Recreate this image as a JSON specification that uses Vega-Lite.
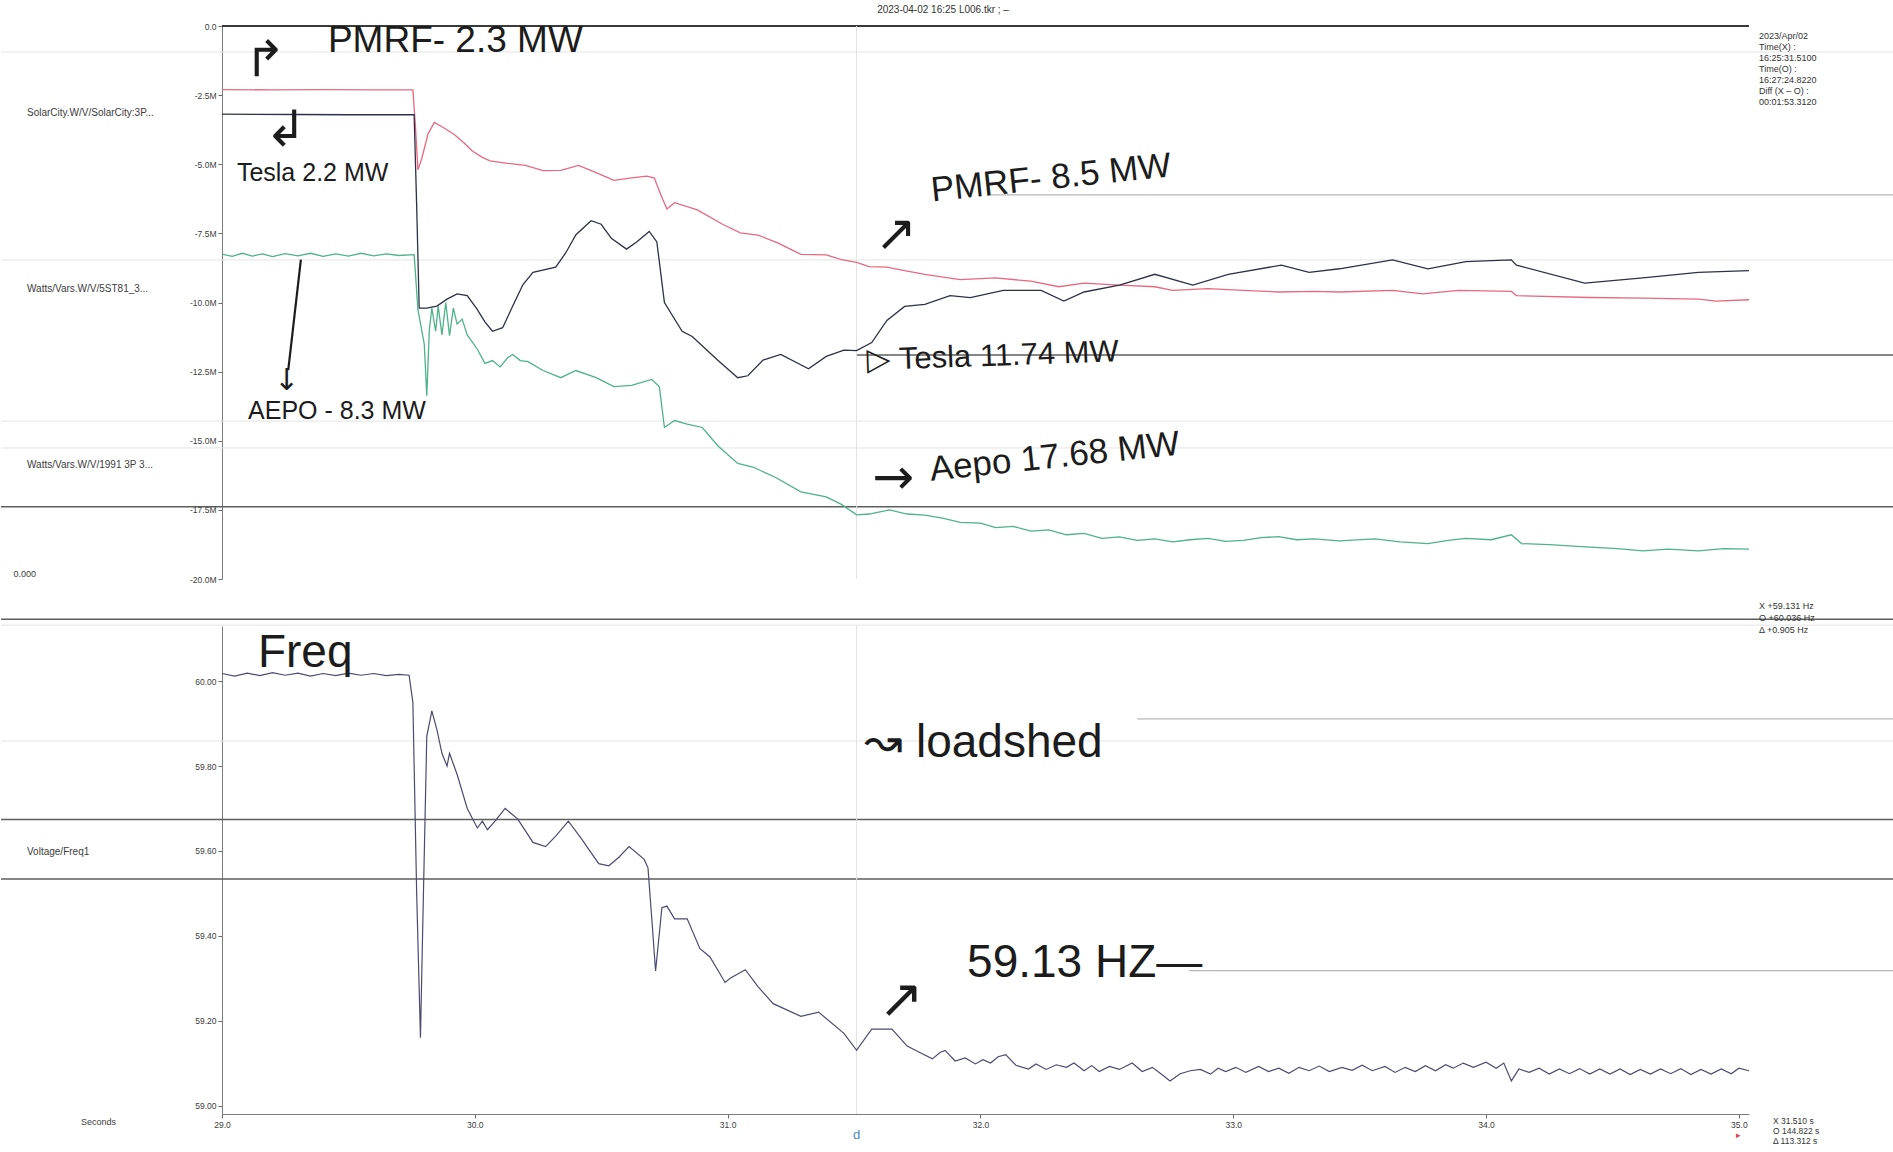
{
  "$schema": "https://vega.github.io/schema/vega-lite/v6.json",
  "background": "#ffffff",
  "padding": {"left": 0, "top": 5, "right": 0, "bottom": 0},
  "bounds": "flush",
  "spacing": 47,
  "resolve": {
    "scale": {"color": "independent", "x": "independent", "y": "independent"},
    "legend": {"color": "independent"}
  },
  "config": {
    "view": {"stroke": null},
    "font": "Liberation Sans",
    "axis": {
      "grid": false,
      "labelFont": "Liberation Sans",
      "labelFontSize": 8.5,
      "labelColor": "#3c3c3c",
      "domainColor": "#7c7c7c",
      "domainWidth": 1,
      "tickColor": "#6c6c6c",
      "tickSize": 4,
      "labelPadding": 2,
      "titleFont": "Liberation Sans",
      "titleFontWeight": "normal",
      "titleFontSize": 9,
      "titleColor": "#3c3c3c"
    },
    "legend": {
      "padding": 0,
      "symbolType": "square",
      "symbolSize": 22,
      "symbolStrokeWidth": 0,
      "labelFont": "Liberation Sans",
      "labelFontSize": 10,
      "labelColor": "#3c3c3c",
      "labelLimit": 240,
      "labelOffset": 4
    }
  },
  "datasets": {
    "power": [
      {"t": 29.00, "mw": -2.30, "channel": "Watts/Vars.W/V/1991 3P 3..."},
      {"t": 29.20, "mw": -2.31, "channel": "Watts/Vars.W/V/1991 3P 3..."},
      {"t": 29.40, "mw": -2.30, "channel": "Watts/Vars.W/V/1991 3P 3..."},
      {"t": 29.60, "mw": -2.31, "channel": "Watts/Vars.W/V/1991 3P 3..."},
      {"t": 29.755, "mw": -2.31, "channel": "Watts/Vars.W/V/1991 3P 3..."},
      {"t": 29.765, "mw": -3.60, "channel": "Watts/Vars.W/V/1991 3P 3..."},
      {"t": 29.775, "mw": -5.20, "channel": "Watts/Vars.W/V/1991 3P 3..."},
      {"t": 29.79, "mw": -4.80, "channel": "Watts/Vars.W/V/1991 3P 3..."},
      {"t": 29.815, "mw": -3.90, "channel": "Watts/Vars.W/V/1991 3P 3..."},
      {"t": 29.84, "mw": -3.49, "channel": "Watts/Vars.W/V/1991 3P 3..."},
      {"t": 29.88, "mw": -3.70, "channel": "Watts/Vars.W/V/1991 3P 3..."},
      {"t": 29.92, "mw": -3.93, "channel": "Watts/Vars.W/V/1991 3P 3..."},
      {"t": 29.96, "mw": -4.25, "channel": "Watts/Vars.W/V/1991 3P 3..."},
      {"t": 29.99, "mw": -4.52, "channel": "Watts/Vars.W/V/1991 3P 3..."},
      {"t": 30.03, "mw": -4.75, "channel": "Watts/Vars.W/V/1991 3P 3..."},
      {"t": 30.06, "mw": -4.88, "channel": "Watts/Vars.W/V/1991 3P 3..."},
      {"t": 30.13, "mw": -4.97, "channel": "Watts/Vars.W/V/1991 3P 3..."},
      {"t": 30.20, "mw": -5.04, "channel": "Watts/Vars.W/V/1991 3P 3..."},
      {"t": 30.27, "mw": -5.23, "channel": "Watts/Vars.W/V/1991 3P 3..."},
      {"t": 30.34, "mw": -5.22, "channel": "Watts/Vars.W/V/1991 3P 3..."},
      {"t": 30.41, "mw": -5.04, "channel": "Watts/Vars.W/V/1991 3P 3..."},
      {"t": 30.48, "mw": -5.30, "channel": "Watts/Vars.W/V/1991 3P 3..."},
      {"t": 30.55, "mw": -5.58, "channel": "Watts/Vars.W/V/1991 3P 3..."},
      {"t": 30.62, "mw": -5.49, "channel": "Watts/Vars.W/V/1991 3P 3..."},
      {"t": 30.68, "mw": -5.43, "channel": "Watts/Vars.W/V/1991 3P 3..."},
      {"t": 30.71, "mw": -5.50, "channel": "Watts/Vars.W/V/1991 3P 3..."},
      {"t": 30.74, "mw": -6.20, "channel": "Watts/Vars.W/V/1991 3P 3..."},
      {"t": 30.76, "mw": -6.62, "channel": "Watts/Vars.W/V/1991 3P 3..."},
      {"t": 30.79, "mw": -6.39, "channel": "Watts/Vars.W/V/1991 3P 3..."},
      {"t": 30.88, "mw": -6.65, "channel": "Watts/Vars.W/V/1991 3P 3..."},
      {"t": 30.98, "mw": -7.17, "channel": "Watts/Vars.W/V/1991 3P 3..."},
      {"t": 31.05, "mw": -7.48, "channel": "Watts/Vars.W/V/1991 3P 3..."},
      {"t": 31.12, "mw": -7.56, "channel": "Watts/Vars.W/V/1991 3P 3..."},
      {"t": 31.20, "mw": -7.85, "channel": "Watts/Vars.W/V/1991 3P 3..."},
      {"t": 31.29, "mw": -8.26, "channel": "Watts/Vars.W/V/1991 3P 3..."},
      {"t": 31.39, "mw": -8.28, "channel": "Watts/Vars.W/V/1991 3P 3..."},
      {"t": 31.45, "mw": -8.45, "channel": "Watts/Vars.W/V/1991 3P 3..."},
      {"t": 31.51, "mw": -8.55, "channel": "Watts/Vars.W/V/1991 3P 3..."},
      {"t": 31.56, "mw": -8.70, "channel": "Watts/Vars.W/V/1991 3P 3..."},
      {"t": 31.63, "mw": -8.72, "channel": "Watts/Vars.W/V/1991 3P 3..."},
      {"t": 31.70, "mw": -8.85, "channel": "Watts/Vars.W/V/1991 3P 3..."},
      {"t": 31.78, "mw": -8.98, "channel": "Watts/Vars.W/V/1991 3P 3..."},
      {"t": 31.92, "mw": -9.17, "channel": "Watts/Vars.W/V/1991 3P 3..."},
      {"t": 32.06, "mw": -9.11, "channel": "Watts/Vars.W/V/1991 3P 3..."},
      {"t": 32.20, "mw": -9.23, "channel": "Watts/Vars.W/V/1991 3P 3..."},
      {"t": 32.31, "mw": -9.43, "channel": "Watts/Vars.W/V/1991 3P 3..."},
      {"t": 32.41, "mw": -9.30, "channel": "Watts/Vars.W/V/1991 3P 3..."},
      {"t": 32.55, "mw": -9.37, "channel": "Watts/Vars.W/V/1991 3P 3..."},
      {"t": 32.69, "mw": -9.43, "channel": "Watts/Vars.W/V/1991 3P 3..."},
      {"t": 32.76, "mw": -9.56, "channel": "Watts/Vars.W/V/1991 3P 3..."},
      {"t": 32.90, "mw": -9.50, "channel": "Watts/Vars.W/V/1991 3P 3..."},
      {"t": 33.04, "mw": -9.56, "channel": "Watts/Vars.W/V/1991 3P 3..."},
      {"t": 33.18, "mw": -9.62, "channel": "Watts/Vars.W/V/1991 3P 3..."},
      {"t": 33.32, "mw": -9.60, "channel": "Watts/Vars.W/V/1991 3P 3..."},
      {"t": 33.42, "mw": -9.62, "channel": "Watts/Vars.W/V/1991 3P 3..."},
      {"t": 33.63, "mw": -9.56, "channel": "Watts/Vars.W/V/1991 3P 3..."},
      {"t": 33.75, "mw": -9.69, "channel": "Watts/Vars.W/V/1991 3P 3..."},
      {"t": 33.89, "mw": -9.56, "channel": "Watts/Vars.W/V/1991 3P 3..."},
      {"t": 34.10, "mw": -9.60, "channel": "Watts/Vars.W/V/1991 3P 3..."},
      {"t": 34.12, "mw": -9.75, "channel": "Watts/Vars.W/V/1991 3P 3..."},
      {"t": 34.41, "mw": -9.82, "channel": "Watts/Vars.W/V/1991 3P 3..."},
      {"t": 34.62, "mw": -9.84, "channel": "Watts/Vars.W/V/1991 3P 3..."},
      {"t": 34.84, "mw": -9.88, "channel": "Watts/Vars.W/V/1991 3P 3..."},
      {"t": 34.91, "mw": -9.95, "channel": "Watts/Vars.W/V/1991 3P 3..."},
      {"t": 35.04, "mw": -9.90, "channel": "Watts/Vars.W/V/1991 3P 3..."},

      {"t": 29.00, "mw": -3.19, "channel": "SolarCity.W/V/SolarCity:3P..."},
      {"t": 29.30, "mw": -3.20, "channel": "SolarCity.W/V/SolarCity:3P..."},
      {"t": 29.50, "mw": -3.21, "channel": "SolarCity.W/V/SolarCity:3P..."},
      {"t": 29.76, "mw": -3.21, "channel": "SolarCity.W/V/SolarCity:3P..."},
      {"t": 29.77, "mw": -6.50, "channel": "SolarCity.W/V/SolarCity:3P..."},
      {"t": 29.78, "mw": -10.20, "channel": "SolarCity.W/V/SolarCity:3P..."},
      {"t": 29.81, "mw": -10.20, "channel": "SolarCity.W/V/SolarCity:3P..."},
      {"t": 29.85, "mw": -10.13, "channel": "SolarCity.W/V/SolarCity:3P..."},
      {"t": 29.89, "mw": -9.88, "channel": "SolarCity.W/V/SolarCity:3P..."},
      {"t": 29.93, "mw": -9.69, "channel": "SolarCity.W/V/SolarCity:3P..."},
      {"t": 29.97, "mw": -9.75, "channel": "SolarCity.W/V/SolarCity:3P..."},
      {"t": 30.01, "mw": -10.26, "channel": "SolarCity.W/V/SolarCity:3P..."},
      {"t": 30.04, "mw": -10.70, "channel": "SolarCity.W/V/SolarCity:3P..."},
      {"t": 30.07, "mw": -11.04, "channel": "SolarCity.W/V/SolarCity:3P..."},
      {"t": 30.11, "mw": -10.91, "channel": "SolarCity.W/V/SolarCity:3P..."},
      {"t": 30.15, "mw": -10.13, "channel": "SolarCity.W/V/SolarCity:3P..."},
      {"t": 30.19, "mw": -9.36, "channel": "SolarCity.W/V/SolarCity:3P..."},
      {"t": 30.23, "mw": -8.91, "channel": "SolarCity.W/V/SolarCity:3P..."},
      {"t": 30.32, "mw": -8.72, "channel": "SolarCity.W/V/SolarCity:3P..."},
      {"t": 30.36, "mw": -8.20, "channel": "SolarCity.W/V/SolarCity:3P..."},
      {"t": 30.40, "mw": -7.55, "channel": "SolarCity.W/V/SolarCity:3P..."},
      {"t": 30.46, "mw": -7.04, "channel": "SolarCity.W/V/SolarCity:3P..."},
      {"t": 30.50, "mw": -7.17, "channel": "SolarCity.W/V/SolarCity:3P..."},
      {"t": 30.54, "mw": -7.68, "channel": "SolarCity.W/V/SolarCity:3P..."},
      {"t": 30.60, "mw": -8.07, "channel": "SolarCity.W/V/SolarCity:3P..."},
      {"t": 30.64, "mw": -7.81, "channel": "SolarCity.W/V/SolarCity:3P..."},
      {"t": 30.69, "mw": -7.43, "channel": "SolarCity.W/V/SolarCity:3P..."},
      {"t": 30.72, "mw": -7.81, "channel": "SolarCity.W/V/SolarCity:3P..."},
      {"t": 30.75, "mw": -10.00, "channel": "SolarCity.W/V/SolarCity:3P..."},
      {"t": 30.82, "mw": -11.04, "channel": "SolarCity.W/V/SolarCity:3P..."},
      {"t": 30.86, "mw": -11.23, "channel": "SolarCity.W/V/SolarCity:3P..."},
      {"t": 30.96, "mw": -12.08, "channel": "SolarCity.W/V/SolarCity:3P..."},
      {"t": 31.04, "mw": -12.72, "channel": "SolarCity.W/V/SolarCity:3P..."},
      {"t": 31.08, "mw": -12.65, "channel": "SolarCity.W/V/SolarCity:3P..."},
      {"t": 31.14, "mw": -12.08, "channel": "SolarCity.W/V/SolarCity:3P..."},
      {"t": 31.21, "mw": -11.88, "channel": "SolarCity.W/V/SolarCity:3P..."},
      {"t": 31.32, "mw": -12.40, "channel": "SolarCity.W/V/SolarCity:3P..."},
      {"t": 31.39, "mw": -11.95, "channel": "SolarCity.W/V/SolarCity:3P..."},
      {"t": 31.46, "mw": -11.72, "channel": "SolarCity.W/V/SolarCity:3P..."},
      {"t": 31.51, "mw": -11.74, "channel": "SolarCity.W/V/SolarCity:3P..."},
      {"t": 31.57, "mw": -11.45, "channel": "SolarCity.W/V/SolarCity:3P..."},
      {"t": 31.63, "mw": -10.65, "channel": "SolarCity.W/V/SolarCity:3P..."},
      {"t": 31.70, "mw": -10.14, "channel": "SolarCity.W/V/SolarCity:3P..."},
      {"t": 31.78, "mw": -10.07, "channel": "SolarCity.W/V/SolarCity:3P..."},
      {"t": 31.88, "mw": -9.75, "channel": "SolarCity.W/V/SolarCity:3P..."},
      {"t": 31.96, "mw": -9.82, "channel": "SolarCity.W/V/SolarCity:3P..."},
      {"t": 32.09, "mw": -9.56, "channel": "SolarCity.W/V/SolarCity:3P..."},
      {"t": 32.24, "mw": -9.56, "channel": "SolarCity.W/V/SolarCity:3P..."},
      {"t": 32.33, "mw": -9.95, "channel": "SolarCity.W/V/SolarCity:3P..."},
      {"t": 32.41, "mw": -9.62, "channel": "SolarCity.W/V/SolarCity:3P..."},
      {"t": 32.55, "mw": -9.37, "channel": "SolarCity.W/V/SolarCity:3P..."},
      {"t": 32.69, "mw": -8.98, "channel": "SolarCity.W/V/SolarCity:3P..."},
      {"t": 32.84, "mw": -9.37, "channel": "SolarCity.W/V/SolarCity:3P..."},
      {"t": 32.98, "mw": -8.98, "channel": "SolarCity.W/V/SolarCity:3P..."},
      {"t": 33.19, "mw": -8.65, "channel": "SolarCity.W/V/SolarCity:3P..."},
      {"t": 33.30, "mw": -8.91, "channel": "SolarCity.W/V/SolarCity:3P..."},
      {"t": 33.42, "mw": -8.78, "channel": "SolarCity.W/V/SolarCity:3P..."},
      {"t": 33.63, "mw": -8.46, "channel": "SolarCity.W/V/SolarCity:3P..."},
      {"t": 33.77, "mw": -8.78, "channel": "SolarCity.W/V/SolarCity:3P..."},
      {"t": 33.92, "mw": -8.52, "channel": "SolarCity.W/V/SolarCity:3P..."},
      {"t": 34.10, "mw": -8.46, "channel": "SolarCity.W/V/SolarCity:3P..."},
      {"t": 34.12, "mw": -8.65, "channel": "SolarCity.W/V/SolarCity:3P..."},
      {"t": 34.39, "mw": -9.30, "channel": "SolarCity.W/V/SolarCity:3P..."},
      {"t": 34.62, "mw": -9.11, "channel": "SolarCity.W/V/SolarCity:3P..."},
      {"t": 34.84, "mw": -8.91, "channel": "SolarCity.W/V/SolarCity:3P..."},
      {"t": 35.04, "mw": -8.85, "channel": "SolarCity.W/V/SolarCity:3P..."},

      {"t": 29.00, "mw": -8.25, "channel": "Watts/Vars.W/V/5ST81_3..."},
      {"t": 29.04, "mw": -8.33, "channel": "Watts/Vars.W/V/5ST81_3..."},
      {"t": 29.08, "mw": -8.22, "channel": "Watts/Vars.W/V/5ST81_3..."},
      {"t": 29.12, "mw": -8.32, "channel": "Watts/Vars.W/V/5ST81_3..."},
      {"t": 29.16, "mw": -8.24, "channel": "Watts/Vars.W/V/5ST81_3..."},
      {"t": 29.20, "mw": -8.34, "channel": "Watts/Vars.W/V/5ST81_3..."},
      {"t": 29.25, "mw": -8.23, "channel": "Watts/Vars.W/V/5ST81_3..."},
      {"t": 29.30, "mw": -8.31, "channel": "Watts/Vars.W/V/5ST81_3..."},
      {"t": 29.35, "mw": -8.22, "channel": "Watts/Vars.W/V/5ST81_3..."},
      {"t": 29.40, "mw": -8.33, "channel": "Watts/Vars.W/V/5ST81_3..."},
      {"t": 29.45, "mw": -8.24, "channel": "Watts/Vars.W/V/5ST81_3..."},
      {"t": 29.50, "mw": -8.32, "channel": "Watts/Vars.W/V/5ST81_3..."},
      {"t": 29.55, "mw": -8.22, "channel": "Watts/Vars.W/V/5ST81_3..."},
      {"t": 29.60, "mw": -8.31, "channel": "Watts/Vars.W/V/5ST81_3..."},
      {"t": 29.65, "mw": -8.24, "channel": "Watts/Vars.W/V/5ST81_3..."},
      {"t": 29.70, "mw": -8.30, "channel": "Watts/Vars.W/V/5ST81_3..."},
      {"t": 29.76, "mw": -8.27, "channel": "Watts/Vars.W/V/5ST81_3..."},
      {"t": 29.775, "mw": -10.26, "channel": "Watts/Vars.W/V/5ST81_3..."},
      {"t": 29.80, "mw": -11.50, "channel": "Watts/Vars.W/V/5ST81_3..."},
      {"t": 29.81, "mw": -13.37, "channel": "Watts/Vars.W/V/5ST81_3..."},
      {"t": 29.82, "mw": -11.00, "channel": "Watts/Vars.W/V/5ST81_3..."},
      {"t": 29.83, "mw": -10.20, "channel": "Watts/Vars.W/V/5ST81_3..."},
      {"t": 29.845, "mw": -11.04, "channel": "Watts/Vars.W/V/5ST81_3..."},
      {"t": 29.855, "mw": -10.13, "channel": "Watts/Vars.W/V/5ST81_3..."},
      {"t": 29.87, "mw": -11.17, "channel": "Watts/Vars.W/V/5ST81_3..."},
      {"t": 29.885, "mw": -10.00, "channel": "Watts/Vars.W/V/5ST81_3..."},
      {"t": 29.90, "mw": -11.20, "channel": "Watts/Vars.W/V/5ST81_3..."},
      {"t": 29.915, "mw": -10.20, "channel": "Watts/Vars.W/V/5ST81_3..."},
      {"t": 29.93, "mw": -10.78, "channel": "Watts/Vars.W/V/5ST81_3..."},
      {"t": 29.95, "mw": -10.60, "channel": "Watts/Vars.W/V/5ST81_3..."},
      {"t": 29.97, "mw": -11.17, "channel": "Watts/Vars.W/V/5ST81_3..."},
      {"t": 30.01, "mw": -11.69, "channel": "Watts/Vars.W/V/5ST81_3..."},
      {"t": 30.04, "mw": -12.20, "channel": "Watts/Vars.W/V/5ST81_3..."},
      {"t": 30.07, "mw": -12.10, "channel": "Watts/Vars.W/V/5ST81_3..."},
      {"t": 30.10, "mw": -12.33, "channel": "Watts/Vars.W/V/5ST81_3..."},
      {"t": 30.13, "mw": -12.00, "channel": "Watts/Vars.W/V/5ST81_3..."},
      {"t": 30.15, "mw": -11.88, "channel": "Watts/Vars.W/V/5ST81_3..."},
      {"t": 30.18, "mw": -12.10, "channel": "Watts/Vars.W/V/5ST81_3..."},
      {"t": 30.21, "mw": -12.14, "channel": "Watts/Vars.W/V/5ST81_3..."},
      {"t": 30.27, "mw": -12.46, "channel": "Watts/Vars.W/V/5ST81_3..."},
      {"t": 30.34, "mw": -12.72, "channel": "Watts/Vars.W/V/5ST81_3..."},
      {"t": 30.40, "mw": -12.46, "channel": "Watts/Vars.W/V/5ST81_3..."},
      {"t": 30.48, "mw": -12.72, "channel": "Watts/Vars.W/V/5ST81_3..."},
      {"t": 30.55, "mw": -13.04, "channel": "Watts/Vars.W/V/5ST81_3..."},
      {"t": 30.62, "mw": -13.00, "channel": "Watts/Vars.W/V/5ST81_3..."},
      {"t": 30.70, "mw": -12.78, "channel": "Watts/Vars.W/V/5ST81_3..."},
      {"t": 30.73, "mw": -13.05, "channel": "Watts/Vars.W/V/5ST81_3..."},
      {"t": 30.75, "mw": -14.52, "channel": "Watts/Vars.W/V/5ST81_3..."},
      {"t": 30.79, "mw": -14.27, "channel": "Watts/Vars.W/V/5ST81_3..."},
      {"t": 30.84, "mw": -14.40, "channel": "Watts/Vars.W/V/5ST81_3..."},
      {"t": 30.90, "mw": -14.52, "channel": "Watts/Vars.W/V/5ST81_3..."},
      {"t": 30.96, "mw": -15.17, "channel": "Watts/Vars.W/V/5ST81_3..."},
      {"t": 31.04, "mw": -15.82, "channel": "Watts/Vars.W/V/5ST81_3..."},
      {"t": 31.10, "mw": -15.95, "channel": "Watts/Vars.W/V/5ST81_3..."},
      {"t": 31.19, "mw": -16.33, "channel": "Watts/Vars.W/V/5ST81_3..."},
      {"t": 31.29, "mw": -16.85, "channel": "Watts/Vars.W/V/5ST81_3..."},
      {"t": 31.39, "mw": -17.03, "channel": "Watts/Vars.W/V/5ST81_3..."},
      {"t": 31.45, "mw": -17.30, "channel": "Watts/Vars.W/V/5ST81_3..."},
      {"t": 31.51, "mw": -17.68, "channel": "Watts/Vars.W/V/5ST81_3..."},
      {"t": 31.56, "mw": -17.65, "channel": "Watts/Vars.W/V/5ST81_3..."},
      {"t": 31.64, "mw": -17.50, "channel": "Watts/Vars.W/V/5ST81_3..."},
      {"t": 31.71, "mw": -17.65, "channel": "Watts/Vars.W/V/5ST81_3..."},
      {"t": 31.78, "mw": -17.69, "channel": "Watts/Vars.W/V/5ST81_3..."},
      {"t": 31.85, "mw": -17.80, "channel": "Watts/Vars.W/V/5ST81_3..."},
      {"t": 31.92, "mw": -17.95, "channel": "Watts/Vars.W/V/5ST81_3..."},
      {"t": 32.00, "mw": -17.98, "channel": "Watts/Vars.W/V/5ST81_3..."},
      {"t": 32.06, "mw": -18.14, "channel": "Watts/Vars.W/V/5ST81_3..."},
      {"t": 32.13, "mw": -18.10, "channel": "Watts/Vars.W/V/5ST81_3..."},
      {"t": 32.20, "mw": -18.27, "channel": "Watts/Vars.W/V/5ST81_3..."},
      {"t": 32.27, "mw": -18.22, "channel": "Watts/Vars.W/V/5ST81_3..."},
      {"t": 32.34, "mw": -18.40, "channel": "Watts/Vars.W/V/5ST81_3..."},
      {"t": 32.41, "mw": -18.35, "channel": "Watts/Vars.W/V/5ST81_3..."},
      {"t": 32.48, "mw": -18.53, "channel": "Watts/Vars.W/V/5ST81_3..."},
      {"t": 32.55, "mw": -18.48, "channel": "Watts/Vars.W/V/5ST81_3..."},
      {"t": 32.62, "mw": -18.60, "channel": "Watts/Vars.W/V/5ST81_3..."},
      {"t": 32.69, "mw": -18.55, "channel": "Watts/Vars.W/V/5ST81_3..."},
      {"t": 32.76, "mw": -18.66, "channel": "Watts/Vars.W/V/5ST81_3..."},
      {"t": 32.83, "mw": -18.58, "channel": "Watts/Vars.W/V/5ST81_3..."},
      {"t": 32.90, "mw": -18.53, "channel": "Watts/Vars.W/V/5ST81_3..."},
      {"t": 32.97, "mw": -18.64, "channel": "Watts/Vars.W/V/5ST81_3..."},
      {"t": 33.04, "mw": -18.60, "channel": "Watts/Vars.W/V/5ST81_3..."},
      {"t": 33.11, "mw": -18.50, "channel": "Watts/Vars.W/V/5ST81_3..."},
      {"t": 33.18, "mw": -18.47, "channel": "Watts/Vars.W/V/5ST81_3..."},
      {"t": 33.25, "mw": -18.58, "channel": "Watts/Vars.W/V/5ST81_3..."},
      {"t": 33.32, "mw": -18.55, "channel": "Watts/Vars.W/V/5ST81_3..."},
      {"t": 33.42, "mw": -18.62, "channel": "Watts/Vars.W/V/5ST81_3..."},
      {"t": 33.56, "mw": -18.55, "channel": "Watts/Vars.W/V/5ST81_3..."},
      {"t": 33.66, "mw": -18.66, "channel": "Watts/Vars.W/V/5ST81_3..."},
      {"t": 33.77, "mw": -18.72, "channel": "Watts/Vars.W/V/5ST81_3..."},
      {"t": 33.85, "mw": -18.60, "channel": "Watts/Vars.W/V/5ST81_3..."},
      {"t": 33.92, "mw": -18.53, "channel": "Watts/Vars.W/V/5ST81_3..."},
      {"t": 34.02, "mw": -18.58, "channel": "Watts/Vars.W/V/5ST81_3..."},
      {"t": 34.10, "mw": -18.40, "channel": "Watts/Vars.W/V/5ST81_3..."},
      {"t": 34.14, "mw": -18.72, "channel": "Watts/Vars.W/V/5ST81_3..."},
      {"t": 34.25, "mw": -18.76, "channel": "Watts/Vars.W/V/5ST81_3..."},
      {"t": 34.41, "mw": -18.85, "channel": "Watts/Vars.W/V/5ST81_3..."},
      {"t": 34.52, "mw": -18.90, "channel": "Watts/Vars.W/V/5ST81_3..."},
      {"t": 34.62, "mw": -18.98, "channel": "Watts/Vars.W/V/5ST81_3..."},
      {"t": 34.72, "mw": -18.92, "channel": "Watts/Vars.W/V/5ST81_3..."},
      {"t": 34.84, "mw": -18.98, "channel": "Watts/Vars.W/V/5ST81_3..."},
      {"t": 34.94, "mw": -18.90, "channel": "Watts/Vars.W/V/5ST81_3..."},
      {"t": 35.04, "mw": -18.92, "channel": "Watts/Vars.W/V/5ST81_3..."}
    ],
    "freq": [
      {"t": 29.00, "hz": 60.018}, {"t": 29.05, "hz": 60.012}, {"t": 29.10, "hz": 60.019},
      {"t": 29.15, "hz": 60.013}, {"t": 29.20, "hz": 60.020}, {"t": 29.25, "hz": 60.014},
      {"t": 29.30, "hz": 60.019}, {"t": 29.35, "hz": 60.012}, {"t": 29.40, "hz": 60.018},
      {"t": 29.45, "hz": 60.013}, {"t": 29.50, "hz": 60.019}, {"t": 29.55, "hz": 60.014},
      {"t": 29.60, "hz": 60.018}, {"t": 29.65, "hz": 60.013}, {"t": 29.70, "hz": 60.016},
      {"t": 29.74, "hz": 60.014}, {"t": 29.755, "hz": 59.95}, {"t": 29.77, "hz": 59.50},
      {"t": 29.785, "hz": 59.16}, {"t": 29.795, "hz": 59.45}, {"t": 29.81, "hz": 59.87},
      {"t": 29.83, "hz": 59.93}, {"t": 29.85, "hz": 59.886}, {"t": 29.87, "hz": 59.83},
      {"t": 29.89, "hz": 59.80}, {"t": 29.90, "hz": 59.83}, {"t": 29.93, "hz": 59.78},
      {"t": 29.97, "hz": 59.70}, {"t": 30.01, "hz": 59.654}, {"t": 30.03, "hz": 59.67},
      {"t": 30.05, "hz": 59.65}, {"t": 30.08, "hz": 59.67}, {"t": 30.12, "hz": 59.70},
      {"t": 30.17, "hz": 59.675}, {"t": 30.23, "hz": 59.62}, {"t": 30.28, "hz": 59.61},
      {"t": 30.32, "hz": 59.635}, {"t": 30.37, "hz": 59.67}, {"t": 30.42, "hz": 59.63},
      {"t": 30.49, "hz": 59.57}, {"t": 30.53, "hz": 59.565}, {"t": 30.57, "hz": 59.585},
      {"t": 30.61, "hz": 59.61}, {"t": 30.67, "hz": 59.58}, {"t": 30.685, "hz": 59.56},
      {"t": 30.70, "hz": 59.44}, {"t": 30.715, "hz": 59.317}, {"t": 30.74, "hz": 59.466},
      {"t": 30.76, "hz": 59.47}, {"t": 30.79, "hz": 59.44}, {"t": 30.84, "hz": 59.44},
      {"t": 30.89, "hz": 59.37}, {"t": 30.93, "hz": 59.35}, {"t": 30.99, "hz": 59.29},
      {"t": 31.01, "hz": 59.30}, {"t": 31.07, "hz": 59.32}, {"t": 31.12, "hz": 59.28},
      {"t": 31.18, "hz": 59.24}, {"t": 31.29, "hz": 59.21}, {"t": 31.36, "hz": 59.22},
      {"t": 31.46, "hz": 59.17}, {"t": 31.51, "hz": 59.13}, {"t": 31.57, "hz": 59.18},
      {"t": 31.65, "hz": 59.18}, {"t": 31.71, "hz": 59.14}, {"t": 31.76, "hz": 59.125},
      {"t": 31.81, "hz": 59.11}, {"t": 31.84, "hz": 59.125}, {"t": 31.86, "hz": 59.13},
      {"t": 31.90, "hz": 59.105}, {"t": 31.94, "hz": 59.112}, {"t": 31.98, "hz": 59.098},
      {"t": 32.01, "hz": 59.108}, {"t": 32.04, "hz": 59.10}, {"t": 32.07, "hz": 59.115},
      {"t": 32.10, "hz": 59.12}, {"t": 32.14, "hz": 59.095}, {"t": 32.19, "hz": 59.086},
      {"t": 32.22, "hz": 59.098}, {"t": 32.26, "hz": 59.085}, {"t": 32.30, "hz": 59.096},
      {"t": 32.34, "hz": 59.09}, {"t": 32.37, "hz": 59.10}, {"t": 32.41, "hz": 59.082},
      {"t": 32.44, "hz": 59.094}, {"t": 32.47, "hz": 59.08}, {"t": 32.51, "hz": 59.092},
      {"t": 32.55, "hz": 59.085}, {"t": 32.60, "hz": 59.10}, {"t": 32.64, "hz": 59.08},
      {"t": 32.68, "hz": 59.09}, {"t": 32.72, "hz": 59.072}, {"t": 32.75, "hz": 59.058},
      {"t": 32.79, "hz": 59.075}, {"t": 32.83, "hz": 59.082}, {"t": 32.87, "hz": 59.085},
      {"t": 32.91, "hz": 59.074}, {"t": 32.94, "hz": 59.088}, {"t": 32.97, "hz": 59.08},
      {"t": 33.01, "hz": 59.09}, {"t": 33.05, "hz": 59.078}, {"t": 33.10, "hz": 59.092},
      {"t": 33.14, "hz": 59.08}, {"t": 33.18, "hz": 59.088}, {"t": 33.22, "hz": 59.076},
      {"t": 33.26, "hz": 59.09}, {"t": 33.30, "hz": 59.082}, {"t": 33.34, "hz": 59.093},
      {"t": 33.38, "hz": 59.08}, {"t": 33.43, "hz": 59.09}, {"t": 33.47, "hz": 59.083},
      {"t": 33.51, "hz": 59.095}, {"t": 33.55, "hz": 59.082}, {"t": 33.60, "hz": 59.092},
      {"t": 33.64, "hz": 59.078}, {"t": 33.68, "hz": 59.09}, {"t": 33.72, "hz": 59.08},
      {"t": 33.76, "hz": 59.094}, {"t": 33.80, "hz": 59.082}, {"t": 33.84, "hz": 59.096},
      {"t": 33.87, "hz": 59.088}, {"t": 33.91, "hz": 59.10}, {"t": 33.95, "hz": 59.09},
      {"t": 34.00, "hz": 59.102}, {"t": 34.04, "hz": 59.088}, {"t": 34.07, "hz": 59.10},
      {"t": 34.10, "hz": 59.058}, {"t": 34.13, "hz": 59.086}, {"t": 34.17, "hz": 59.078},
      {"t": 34.21, "hz": 59.088}, {"t": 34.25, "hz": 59.074}, {"t": 34.29, "hz": 59.086},
      {"t": 34.33, "hz": 59.075}, {"t": 34.37, "hz": 59.087}, {"t": 34.41, "hz": 59.074},
      {"t": 34.45, "hz": 59.086}, {"t": 34.49, "hz": 59.074}, {"t": 34.53, "hz": 59.086},
      {"t": 34.57, "hz": 59.073}, {"t": 34.61, "hz": 59.085}, {"t": 34.65, "hz": 59.074},
      {"t": 34.69, "hz": 59.086}, {"t": 34.73, "hz": 59.075}, {"t": 34.77, "hz": 59.087},
      {"t": 34.81, "hz": 59.073}, {"t": 34.85, "hz": 59.085}, {"t": 34.89, "hz": 59.074},
      {"t": 34.93, "hz": 59.086}, {"t": 34.97, "hz": 59.075}, {"t": 35.00, "hz": 59.088},
      {"t": 35.04, "hz": 59.082}
    ],
    "guidesTop": [
      {"t": 28.1258, "t2": 35.61, "mw": -0.94, "kind": "faint"},
      {"t": 28.1258, "t2": 35.61, "mw": -8.46, "kind": "faint"},
      {"t": 28.1258, "t2": 35.61, "mw": -14.29, "kind": "faint"},
      {"t": 28.1258, "t2": 35.61, "mw": -15.26, "kind": "faint"},
      {"t": 32.04, "t2": 35.61, "mw": -6.11, "kind": "medium"},
      {"t": 31.51, "t2": 35.61, "mw": -11.9, "kind": "dark"},
      {"t": 28.1258, "t2": 35.61, "mw": -17.39, "kind": "dark"},
      {"t": 29.0, "t2": 35.04, "mw": 0, "kind": "frame"}
    ],
    "guidesBottom": [
      {"t": 28.1258, "t2": 35.61, "hz": 60.146, "kind": "dark"},
      {"t": 28.1258, "t2": 35.61, "hz": 60.132, "kind": "faint"},
      {"t": 28.1258, "t2": 35.61, "hz": 59.859, "kind": "faint"},
      {"t": 32.62, "t2": 35.61, "hz": 59.911, "kind": "medium"},
      {"t": 28.1258, "t2": 35.61, "hz": 59.674, "kind": "dark"},
      {"t": 28.1258, "t2": 35.61, "hz": 59.534, "kind": "dark"},
      {"t": 32.825, "t2": 35.61, "hz": 59.318, "kind": "medium"}
    ],
    "cursorTop": [{"t": 31.51, "mw": 0, "mw2": -20}],
    "cursorBottom": [{"t": 31.51, "hz": 60.13, "hz2": 58.98}],
    "strokesTop": [
      {"t": 29.312, "mw": -8.45, "t2": 29.262, "mw2": -12.45}
    ],
    "notesTopSmall": [
      {"t": 29.059, "mw": -5.32, "note": "Tesla 2.2 MW"},
      {"t": 29.103, "mw": -13.92, "note": "AEPO - 8.3 MW"}
    ],
    "notesTopMid": [
      {"t": 31.551, "mw": -12.12, "note": "▷ Tesla 11.74 MW"}
    ],
    "notesTopLarge": [
      {"t": 29.419, "mw": -0.54, "note": "PMRF- 2.3 MW"}
    ],
    "notesTopTilted": [
      {"t": 31.805, "mw": -5.95, "note": "PMRF- 8.5 MW"},
      {"t": 31.80, "mw": -16.05, "note": "Aepo 17.68 MW"}
    ],
    "glyphsTopBig": [
      {"t": 29.17, "mw": -1.27, "glyph": "↱"},
      {"t": 29.253, "mw": -3.80, "glyph": "↲"},
      {"t": 31.666, "mw": -7.56, "glyph": "↗"},
      {"t": 31.655, "mw": -16.40, "glyph": "→"}
    ],
    "glyphsTopSmall": [
      {"t": 29.255, "mw": -12.84, "glyph": "↓"}
    ],
    "headerTop": [
      {"t": 31.852, "mw": 0, "label": "2023-04-02 16:25 L006.tkr ; –"}
    ],
    "readoutTop": [
      {"t": 35.04, "mw": 0, "label": "2023/Apr/02\nTime(X) :\n16:25:31.5100\nTime(O) :\n16:27:24.8220\nDiff (X – O) :\n00:01:53.3120"}
    ],
    "notesBottom": [
      {"t": 29.142, "hz": 60.066, "note": "Freq"},
      {"t": 31.54, "hz": 59.854, "note": "↝ loadshed"},
      {"t": 31.947, "hz": 59.336, "note": "59.13 HZ—"}
    ],
    "glyphsBottom": [
      {"t": 31.686, "hz": 59.246, "glyph": "↗"}
    ],
    "readoutHz": [
      {"t": 35.04, "hz": 60.13, "label": "X +59.131 Hz\nO +60.036 Hz\nΔ +0.905 Hz"}
    ],
    "readoutSeconds": [
      {"t": 35.04, "hz": 58.98, "label": "X 31.510 s\nO 144.822 s\nΔ 113.312 s"}
    ],
    "cursorHandles": [
      {"t": 31.51, "hz": 58.98, "handle": "d"}
    ],
    "endHandles": [
      {"t": 35.0, "hz": 58.98, "handle": "▸"}
    ]
  },
  "vconcat": [
    {
      "width": 1527,
      "height": 553,
      "encoding": {
        "x": {"field": "t", "type": "quantitative", "scale": {"domain": [29, 35.04], "nice": false, "zero": false}, "axis": null},
        "y": {
          "field": "mw",
          "type": "quantitative",
          "scale": {"domain": [-20, 0], "nice": false, "zero": false},
          "axis": {
            "values": [0, -2.5, -5, -7.5, -10, -12.5, -15, -17.5, -20],
            "labelExpr": "datum.value === 0 ? '0.0' : '-' + format(-datum.value, '.1f') + 'M'",
            "title": "0.000",
            "titleAngle": 0,
            "titleX": -209,
            "titleY": 547,
            "titleAlign": "left",
            "titleBaseline": "middle"
          }
        }
      },
      "layer": [
        {
          "data": {"name": "guidesTop"},
          "transform": [{"filter": "datum.kind === 'faint'"}],
          "mark": {"type": "rule", "color": "#e4e4e4", "strokeWidth": 1},
          "encoding": {"x2": {"field": "t2"}}
        },
        {
          "data": {"name": "guidesTop"},
          "transform": [{"filter": "datum.kind === 'medium'"}],
          "mark": {"type": "rule", "color": "#b8b8b8", "strokeWidth": 1.2},
          "encoding": {"x2": {"field": "t2"}}
        },
        {
          "data": {"name": "guidesTop"},
          "transform": [{"filter": "datum.kind === 'dark'"}],
          "mark": {"type": "rule", "color": "#5e5e5e", "strokeWidth": 1.5},
          "encoding": {"x2": {"field": "t2"}}
        },
        {
          "data": {"name": "guidesTop"},
          "transform": [{"filter": "datum.kind === 'frame'"}],
          "mark": {"type": "rule", "color": "#3a3a3a", "strokeWidth": 2},
          "encoding": {"x2": {"field": "t2"}}
        },
        {
          "data": {"name": "cursorTop"},
          "mark": {"type": "rule", "color": "#e2e2e2", "strokeWidth": 1},
          "encoding": {"y2": {"field": "mw2"}}
        },
        {
          "data": {"name": "power"},
          "mark": {"type": "line", "strokeWidth": 1.3},
          "encoding": {
            "color": {
              "field": "channel",
              "type": "nominal",
              "scale": {
                "domain": ["SolarCity.W/V/SolarCity:3P...", "Watts/Vars.W/V/5ST81_3...", "Watts/Vars.W/V/1991 3P 3..."],
                "range": ["#2c3148", "#4cb38a", "#e8687f"]
              },
              "legend": {"title": null, "orient": "none", "legendX": -209, "legendY": 82, "direction": "vertical", "rowPadding": 166}
            }
          }
        },
        {
          "data": {"name": "strokesTop"},
          "mark": {"type": "rule", "color": "#1c1c1c", "strokeWidth": 2.2},
          "encoding": {"x2": {"field": "t2"}, "y2": {"field": "mw2"}}
        },
        {
          "data": {"name": "notesTopSmall"},
          "mark": {"type": "text", "align": "left", "baseline": "middle", "fontSize": 25, "font": "Liberation Sans", "color": "#1c1c1c"},
          "encoding": {"text": {"field": "note"}}
        },
        {
          "data": {"name": "notesTopMid"},
          "mark": {"type": "text", "align": "left", "baseline": "middle", "fontSize": 31, "font": "Liberation Sans", "color": "#1c1c1c", "angle": 358},
          "encoding": {"text": {"field": "note"}}
        },
        {
          "data": {"name": "notesTopLarge"},
          "mark": {"type": "text", "align": "left", "baseline": "middle", "fontSize": 37, "font": "Liberation Sans", "color": "#1c1c1c"},
          "encoding": {"text": {"field": "note"}}
        },
        {
          "data": {"name": "notesTopTilted"},
          "mark": {"type": "text", "align": "left", "baseline": "middle", "fontSize": 35, "font": "Liberation Sans", "color": "#1c1c1c", "angle": 354},
          "encoding": {"text": {"field": "note"}}
        },
        {
          "data": {"name": "glyphsTopBig"},
          "mark": {"type": "text", "align": "center", "baseline": "middle", "fontSize": 50, "font": "DejaVu Sans", "color": "#1c1c1c"},
          "encoding": {"text": {"field": "glyph"}}
        },
        {
          "data": {"name": "glyphsTopSmall"},
          "mark": {"type": "text", "align": "center", "baseline": "middle", "fontSize": 30, "font": "DejaVu Sans", "color": "#1c1c1c"},
          "encoding": {"text": {"field": "glyph"}}
        },
        {
          "data": {"name": "headerTop"},
          "mark": {"type": "text", "align": "center", "baseline": "middle", "fontSize": 10, "color": "#333333", "dy": -16},
          "encoding": {"text": {"field": "label"}}
        },
        {
          "data": {"name": "readoutTop"},
          "mark": {"type": "text", "align": "left", "baseline": "top", "fontSize": 9, "lineHeight": 11, "lineBreak": "\n", "color": "#333333", "dx": 10, "dy": 6},
          "encoding": {"text": {"field": "label"}}
        }
      ]
    },
    {
      "width": 1527,
      "height": 488,
      "encoding": {
        "x": {
          "field": "t",
          "type": "quantitative",
          "scale": {"domain": [29, 35.04], "nice": false, "zero": false},
          "axis": {
            "values": [29, 30, 31, 32, 33, 34, 35],
            "format": ".1f",
            "labelFlush": false,
            "title": "Seconds",
            "titleX": -124,
            "titleY": 7,
            "titleAlign": "center",
            "titleBaseline": "middle"
          }
        },
        "y": {
          "field": "hz",
          "type": "quantitative",
          "scale": {"domain": [58.98, 60.13], "nice": false, "zero": false},
          "axis": {"values": [60, 59.8, 59.6, 59.4, 59.2, 59], "format": ".2f", "title": null}
        }
      },
      "layer": [
        {
          "data": {"name": "guidesBottom"},
          "transform": [{"filter": "datum.kind === 'faint'"}],
          "mark": {"type": "rule", "color": "#e4e4e4", "strokeWidth": 1},
          "encoding": {"x2": {"field": "t2"}}
        },
        {
          "data": {"name": "guidesBottom"},
          "transform": [{"filter": "datum.kind === 'medium'"}],
          "mark": {"type": "rule", "color": "#b8b8b8", "strokeWidth": 1.2},
          "encoding": {"x2": {"field": "t2"}}
        },
        {
          "data": {"name": "guidesBottom"},
          "transform": [{"filter": "datum.kind === 'dark'"}],
          "mark": {"type": "rule", "color": "#5e5e5e", "strokeWidth": 1.5},
          "encoding": {"x2": {"field": "t2"}}
        },
        {
          "data": {"name": "cursorBottom"},
          "mark": {"type": "rule", "color": "#e2e2e2", "strokeWidth": 1},
          "encoding": {"y2": {"field": "hz2"}}
        },
        {
          "data": {"name": "freq"},
          "mark": {"type": "line", "strokeWidth": 1.2},
          "encoding": {
            "color": {
              "datum": "Voltage/Freq1",
              "type": "nominal",
              "scale": {"domain": ["Voltage/Freq1"], "range": ["#4b4a72"]},
              "legend": {"title": null, "orient": "none", "legendX": -209, "legendY": 221}
            }
          }
        },
        {
          "data": {"name": "notesBottom"},
          "mark": {"type": "text", "align": "left", "baseline": "middle", "fontSize": 46, "font": "Liberation Sans", "color": "#1c1c1c"},
          "encoding": {"text": {"field": "note"}}
        },
        {
          "data": {"name": "glyphsBottom"},
          "mark": {"type": "text", "align": "center", "baseline": "middle", "fontSize": 54, "font": "DejaVu Sans", "color": "#1c1c1c"},
          "encoding": {"text": {"field": "glyph"}}
        },
        {
          "data": {"name": "readoutHz"},
          "mark": {"type": "text", "align": "left", "baseline": "top", "fontSize": 9, "lineHeight": 12, "lineBreak": "\n", "color": "#333333", "dx": 10, "dy": -24},
          "encoding": {"text": {"field": "label"}}
        },
        {
          "data": {"name": "readoutSeconds"},
          "mark": {"type": "text", "align": "left", "baseline": "top", "fontSize": 8.5, "lineHeight": 10, "lineBreak": "\n", "color": "#333333", "dx": 24, "dy": 3},
          "encoding": {"text": {"field": "label"}}
        },
        {
          "data": {"name": "cursorHandles"},
          "mark": {"type": "text", "align": "center", "baseline": "middle", "fontSize": 13, "color": "#4a86c5", "dy": 21},
          "encoding": {"text": {"field": "handle"}}
        },
        {
          "data": {"name": "endHandles"},
          "mark": {"type": "text", "align": "center", "baseline": "middle", "fontSize": 9, "color": "#e0404f", "dy": 21},
          "encoding": {"text": {"field": "handle"}}
        }
      ]
    }
  ]
}
